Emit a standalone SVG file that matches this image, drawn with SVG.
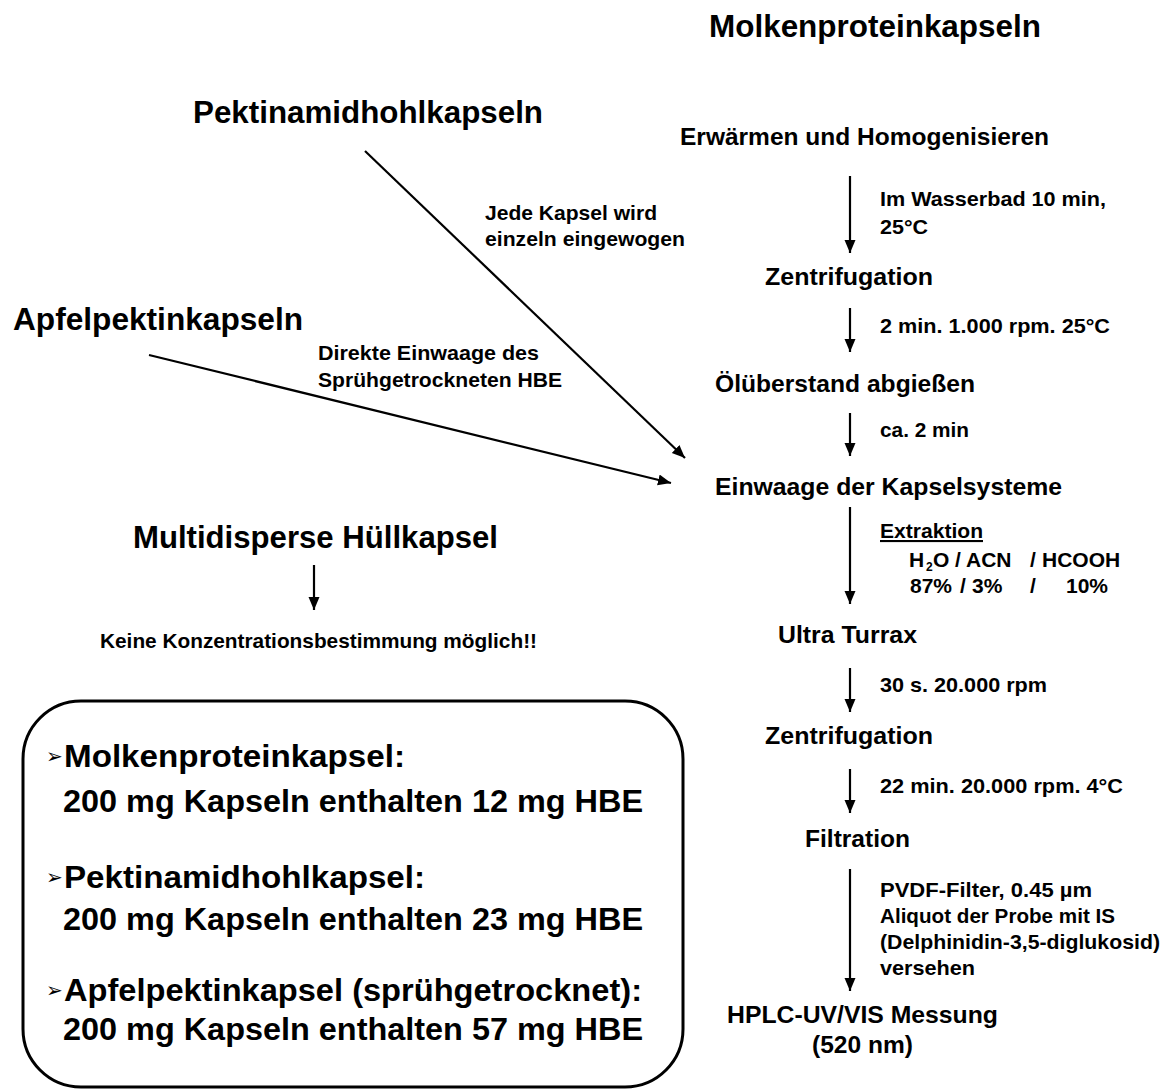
<svg xmlns="http://www.w3.org/2000/svg" width="1162" height="1089" viewBox="0 0 1162 1089">
  <style>
    text { font-family: "Liberation Sans", Arial, sans-serif; font-weight: bold; fill: #000; }
    .big { font-size: 31px; }
    .step { font-size: 24.5px; }
    .note { font-size: 21px; }
    .sum { font-size: 31px; }
    .bullet { font-family: "DejaVu Sans", sans-serif; font-weight: normal; font-size: 20px; }
    .arrow { stroke: #000; stroke-width: 2.2; fill: none; marker-end: url(#head); }
    .box { stroke: #000; stroke-width: 3; fill: none; }
  </style>
  <defs>
    <marker id="head" markerUnits="userSpaceOnUse" markerWidth="14" markerHeight="12" refX="13" refY="5.5" orient="auto">
      <path d="M0,0 L13,5.5 L0,11 z" fill="#000"/>
    </marker>
  </defs>

  <rect width="1162" height="1089" fill="#fff"/>

  <!-- connectors -->
  <g id="connectors">
    <line class="arrow" x1="365" y1="151" x2="685" y2="458"/>
    <line class="arrow" x1="149" y1="355" x2="671" y2="483"/>
    <line class="arrow" x1="314" y1="565" x2="314" y2="610"/>
    <line class="arrow" x1="850" y1="176" x2="850" y2="253"/>
    <line class="arrow" x1="850" y1="308" x2="850" y2="352"/>
    <line class="arrow" x1="850" y1="413" x2="850" y2="456"/>
    <line class="arrow" x1="850" y1="507" x2="850" y2="604"/>
    <line class="arrow" x1="850" y1="668" x2="850" y2="712"/>
    <line class="arrow" x1="850" y1="769" x2="850" y2="813"/>
    <line class="arrow" x1="850" y1="869" x2="850" y2="991"/>
  </g>

  <!-- connector labels -->
  <g id="labels" class="note">
    <text x="485" y="220" textLength="172" lengthAdjust="spacingAndGlyphs">Jede Kapsel wird</text>
    <text x="485" y="246" textLength="200" lengthAdjust="spacingAndGlyphs">einzeln eingewogen</text>
    <text x="318" y="360" textLength="221" lengthAdjust="spacingAndGlyphs">Direkte Einwaage des</text>
    <text x="318" y="387" textLength="244" lengthAdjust="spacingAndGlyphs">Sprühgetrockneten HBE</text>
    <text x="880" y="206" textLength="226" lengthAdjust="spacingAndGlyphs">Im Wasserbad 10 min,</text>
    <text x="880" y="234" textLength="48" lengthAdjust="spacingAndGlyphs">25°C</text>
    <text x="880" y="333" textLength="230" lengthAdjust="spacingAndGlyphs">2 min. 1.000 rpm. 25°C</text>
    <text x="880" y="437" textLength="89" lengthAdjust="spacingAndGlyphs">ca. 2 min</text>
    <text x="880" y="538" textLength="103" lengthAdjust="spacingAndGlyphs" text-decoration="underline">Extraktion</text>
    <text y="567"><tspan x="909">H</tspan><tspan x="926" dy="4" font-size="12">2</tspan><tspan x="933" dy="-4">O</tspan><tspan x="955">/</tspan><tspan x="966">ACN</tspan><tspan x="1030">/</tspan><tspan x="1042">HCOOH</tspan></text>
    <text y="593"><tspan x="910">87%</tspan><tspan x="960">/</tspan><tspan x="972">3%</tspan><tspan x="1030">/</tspan><tspan x="1066">10%</tspan></text>
    <text x="880" y="692" textLength="167" lengthAdjust="spacingAndGlyphs">30 s. 20.000 rpm</text>
    <text x="880" y="793" textLength="243" lengthAdjust="spacingAndGlyphs">22 min. 20.000 rpm. 4°C</text>
    <text x="880" y="897" textLength="212" lengthAdjust="spacingAndGlyphs">PVDF-Filter, 0.45 µm</text>
    <text x="880" y="923" textLength="235" lengthAdjust="spacingAndGlyphs">Aliquot der Probe mit IS</text>
    <text x="880" y="949" textLength="280" lengthAdjust="spacingAndGlyphs">(Delphinidin-3,5-diglukosid)</text>
    <text x="880" y="975" textLength="95" lengthAdjust="spacingAndGlyphs">versehen</text>
  </g>

  <!-- capsule sources -->
  <g id="molkenprotein"><text class="big" x="709" y="37" textLength="332" lengthAdjust="spacingAndGlyphs">Molkenproteinkapseln</text></g>
  <g id="pektinamid"><text class="big" x="193" y="123" textLength="350" lengthAdjust="spacingAndGlyphs">Pektinamidhohlkapseln</text></g>
  <g id="apfelpektin"><text class="big" x="13" y="330" textLength="290" lengthAdjust="spacingAndGlyphs">Apfelpektinkapseln</text></g>
  <g id="multidispers"><text class="big" x="133" y="548" textLength="365" lengthAdjust="spacingAndGlyphs">Multidisperse Hüllkapsel</text></g>
  <g id="keine"><text class="note" x="100" y="648" textLength="437" lengthAdjust="spacingAndGlyphs">Keine Konzentrationsbestimmung möglich!!</text></g>

  <!-- process steps -->
  <g id="erwaermen"><text class="step" x="680" y="145" textLength="369" lengthAdjust="spacingAndGlyphs">Erwärmen und Homogenisieren</text></g>
  <g id="zentrifugation1"><text class="step" x="765" y="285" textLength="168" lengthAdjust="spacingAndGlyphs">Zentrifugation</text></g>
  <g id="oelueberstand"><text class="step" x="715" y="392" textLength="260" lengthAdjust="spacingAndGlyphs">Ölüberstand abgießen</text></g>
  <g id="einwaage"><text class="step" x="715" y="495" textLength="347" lengthAdjust="spacingAndGlyphs">Einwaage der Kapselsysteme</text></g>
  <g id="ultraturrax"><text class="step" x="778" y="643" textLength="139" lengthAdjust="spacingAndGlyphs">Ultra Turrax</text></g>
  <g id="zentrifugation2"><text class="step" x="765" y="744" textLength="168" lengthAdjust="spacingAndGlyphs">Zentrifugation</text></g>
  <g id="filtration"><text class="step" x="805" y="847" textLength="105" lengthAdjust="spacingAndGlyphs">Filtration</text></g>
  <g id="hplc">
    <text class="step" x="727" y="1023" textLength="271" lengthAdjust="spacingAndGlyphs">HPLC-UV/VIS Messung</text>
    <text class="step" x="812" y="1053" textLength="101" lengthAdjust="spacingAndGlyphs">(520 nm)</text>
  </g>

  <!-- summary box -->
  <g id="summary">
    <rect class="box" x="23" y="701" width="660" height="386" rx="58" ry="58"/>
    <text class="bullet" x="46" y="763">➢</text>
    <text class="sum" x="64" y="767" textLength="341" lengthAdjust="spacingAndGlyphs">Molkenproteinkapsel:</text>
    <text class="sum" x="63" y="812" textLength="580" lengthAdjust="spacingAndGlyphs">200 mg Kapseln enthalten 12 mg HBE</text>
    <text class="bullet" x="46" y="884">➢</text>
    <text class="sum" x="64" y="888" textLength="361" lengthAdjust="spacingAndGlyphs">Pektinamidhohlkapsel:</text>
    <text class="sum" x="63" y="930" textLength="580" lengthAdjust="spacingAndGlyphs">200 mg Kapseln enthalten 23 mg HBE</text>
    <text class="bullet" x="46" y="997">➢</text>
    <text class="sum" x="64" y="1001" textLength="578" lengthAdjust="spacingAndGlyphs">Apfelpektinkapsel (sprühgetrocknet):</text>
    <text class="sum" x="63" y="1040" textLength="580" lengthAdjust="spacingAndGlyphs">200 mg Kapseln enthalten 57 mg HBE</text>
  </g>
</svg>
